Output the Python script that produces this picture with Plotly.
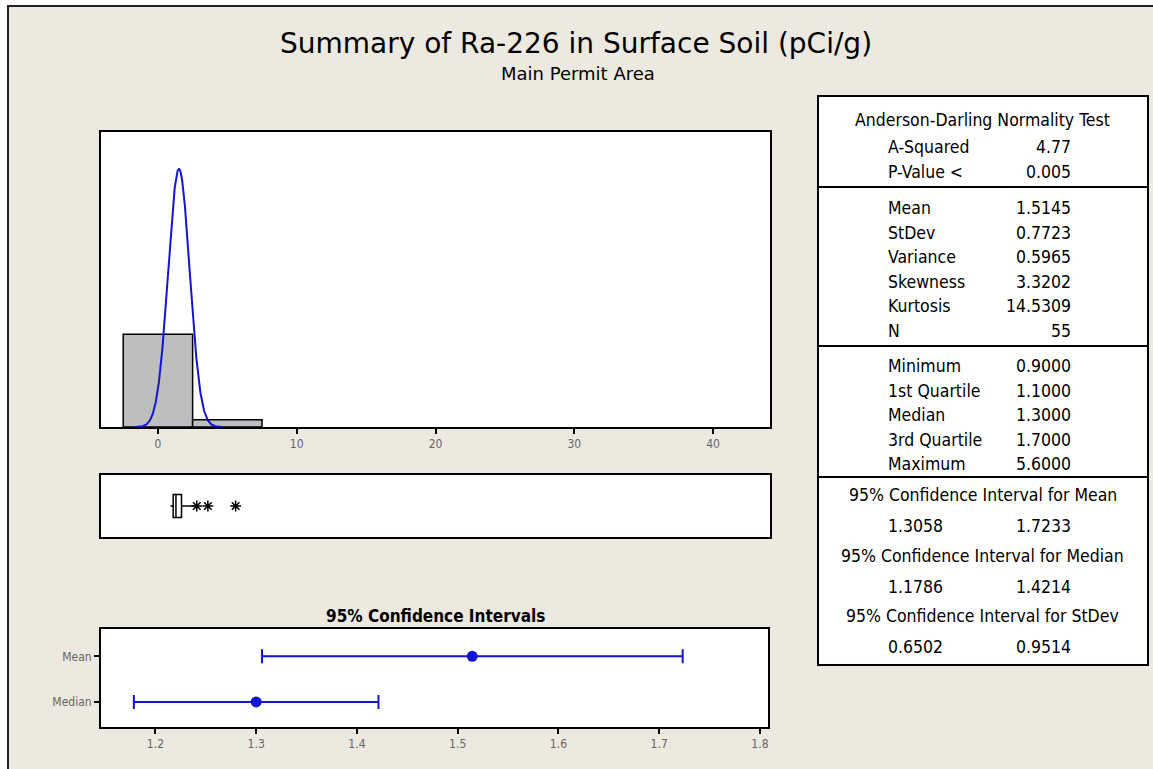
import numpy as np
import plotly.graph_objects as go

W, H = 1153, 769

# ---------------- data ----------------
hist_midpoints = [0, 5]
hist_counts = [51, 4]
bin_width = 5
mean_val = 1.5145
stdev_val = 0.7723
n_val = 55

box_q1 = 1.1
box_median = 1.3
box_q3 = 1.7
box_lower = 0.9
box_upper = 2.6
outliers = [2.8, 3.6, 5.6]

ci_labels = ["Mean", "Median"]
ci_center = [1.5145, 1.3]
ci_lower = [1.3058, 1.1786]
ci_upper = [1.7233, 1.4214]

hist_ticks = [0, 10, 20, 30, 40]
ci_ticks = [1.2, 1.3, 1.4, 1.5, 1.6, 1.7, 1.8]

ad_labels = ["A-Squared", "P-Value <"]
ad_values = ["4.77", "0.005"]
moment_labels = ["Mean", "StDev", "Variance", "Skewness", "Kurtosis", "N"]
moment_values = ["1.5145", "0.7723", "0.5965", "3.3202", "14.5309", "55"]
quant_labels = ["Minimum", "1st Quartile", "Median", "3rd Quartile", "Maximum"]
quant_values = ["0.9000", "1.1000", "1.3000", "1.7000", "5.6000"]
ci_titles = ["95% Confidence Interval for Mean",
             "95% Confidence Interval for Median",
             "95% Confidence Interval for StDev"]
ci_table_lo = ["1.3058", "1.1786", "0.6502"]
ci_table_hi = ["1.7233", "1.4214", "0.9514"]

# ---------------- helpers ----------------
def fx(px):
    return px / W

def fy(py):
    return 1 - py / H

FONT = "DejaVu Sans Condensed, DejaVu Sans, sans-serif"
TITLEFONT = "DejaVu Sans, sans-serif"
TICKFONT = dict(family="Liberation Sans Narrow, DejaVu Sans Condensed, sans-serif", size=12, color="#666666")
BLUE = "#1414d2"
BG = "#ECE9E0"

fig = go.Figure()

# histogram
fig.add_trace(go.Bar(x=hist_midpoints, y=hist_counts, width=bin_width,
                     marker=dict(color="#BEBEBE", line=dict(color="black", width=1.5)),
                     xaxis="x", yaxis="y", showlegend=False, hoverinfo="skip"))
# fitted normal curve from mean / stdev
xs = np.linspace(-1.6, 4.7, 300)
ys = n_val * bin_width * np.exp(-0.5 * ((xs - mean_val) / stdev_val) ** 2) / (stdev_val * np.sqrt(2 * np.pi))
fig.add_trace(go.Scatter(x=xs, y=ys, mode="lines", line=dict(color=BLUE, width=2),
                         xaxis="x", yaxis="y", showlegend=False, hoverinfo="skip"))

# box plot
fig.add_trace(go.Box(orientation="h", y=[0], q1=[box_q1], median=[box_median], q3=[box_q3],
                     lowerfence=[box_lower], upperfence=[box_upper], width=0.74,
                     fillcolor="white", line=dict(color="black", width=1.5), whiskerwidth=0,
                     boxpoints=False, xaxis="x2", yaxis="y2", showlegend=False, hoverinfo="skip"))
fig.add_trace(go.Scatter(x=outliers, y=[0] * len(outliers), mode="markers",
                         marker=dict(symbol="asterisk-open", size=9, color="black",
                                     line=dict(color="black", width=1.5)),
                         xaxis="x2", yaxis="y2", showlegend=False, hoverinfo="skip"))

# confidence intervals
fig.add_trace(go.Scatter(
    x=ci_center, y=ci_labels, mode="markers",
    marker=dict(color=BLUE, size=11),
    error_x=dict(type="data", symmetric=False,
                 array=[u - c for u, c in zip(ci_upper, ci_center)],
                 arrayminus=[c - l for c, l in zip(ci_center, ci_lower)],
                 color=BLUE, thickness=2, width=7),
    xaxis="x3", yaxis="y3", showlegend=False, hoverinfo="skip"))

frame = dict(showline=True, linecolor="black", linewidth=2, mirror=True,
             showgrid=False, zeroline=False)

fig.update_layout(
    width=W, height=H, margin=dict(l=0, r=0, t=0, b=0),
    paper_bgcolor=BG, plot_bgcolor="white",
    font=dict(family=FONT, color="black"),
    xaxis=dict(domain=[fx(101), fx(770)], range=[-4.1, 44.1], tickvals=hist_ticks,
               ticks="outside", ticklen=5, tickcolor="black", tickwidth=1.5,
               tickfont=TICKFONT, anchor="y", **frame),
    yaxis=dict(domain=[fy(427), fy(132)], range=[0, 162.4], showticklabels=False,
               ticks="", anchor="x", **frame),
    xaxis2=dict(domain=[fx(101), fx(770)], matches="x", showticklabels=False, ticks="",
                anchor="y2", **frame),
    yaxis2=dict(domain=[fy(537), fy(475)], range=[-1, 1], showticklabels=False, ticks="",
                anchor="x2", **frame),
    xaxis3=dict(domain=[fx(101), fx(768)], range=[1.146, 1.808], tickvals=ci_ticks,
                ticktext=["%.1f" % t for t in ci_ticks],
                ticks="outside", ticklen=5, tickcolor="black", tickwidth=1.5,
                tickfont=TICKFONT, anchor="y3", **frame),
    yaxis3=dict(domain=[fy(727), fy(629)], type="category", categoryorder="array",
                categoryarray=["Median", "Mean"], range=[-0.55, 1.6],
                ticks="outside", ticklen=5, tickcolor="black", tickwidth=1.5,
                tickfont=TICKFONT, anchor="x3", **frame),
)

shapes = []
annotations = []

# outer border
shapes.append(dict(type="rect", xref="paper", yref="paper", x0=0, x1=fx(7), y0=0, y1=1,
                   fillcolor="white", line=dict(width=0), layer="below"))
shapes.append(dict(type="rect", xref="paper", yref="paper", x0=0, x1=1, y0=fy(5), y1=1,
                   fillcolor="white", line=dict(width=0), layer="below"))
shapes.append(dict(type="line", xref="paper", yref="paper", x0=fx(8), x1=fx(8), y0=0, y1=fy(5),
                   line=dict(color="#222222", width=2)))
shapes.append(dict(type="line", xref="paper", yref="paper", x0=fx(8), x1=1, y0=fy(6), y1=fy(6),
                   line=dict(color="#222222", width=2)))

# titles
annotations.append(dict(text="Summary of Ra-226 in Surface Soil (pCi/g)", x=fx(576), y=fy(43),
                        xref="paper", yref="paper", showarrow=False, xanchor="center", yanchor="middle",
                        font=dict(family=TITLEFONT, size=28, color="black")))
annotations.append(dict(text="Main Permit Area", x=fx(578), y=fy(73),
                        xref="paper", yref="paper", showarrow=False, xanchor="center", yanchor="middle",
                        font=dict(family=TITLEFONT, size=18, color="black")))
annotations.append(dict(text="<b>95% Confidence Intervals</b>", x=fx(435), y=fy(616),
                        xref="paper", yref="paper", showarrow=False, xanchor="center", yanchor="middle",
                        font=dict(family=FONT, size=17, color="black")))

# statistics table
TL, TR, TT, TB = 818, 1148, 96, 665
shapes.append(dict(type="rect", xref="paper", yref="paper", x0=fx(TL), x1=fx(TR), y0=fy(TB), y1=fy(TT),
                   fillcolor="white", line=dict(color="black", width=2)))
for sy in [187, 346, 477]:
    shapes.append(dict(type="line", xref="paper", yref="paper", x0=fx(TL), x1=fx(TR), y0=fy(sy), y1=fy(sy),
                       line=dict(color="black", width=2)))

TFONT = dict(family=FONT, size=17.5, color="black")
LX, RX, CX = 886, 1073, 983

def txt(s, px, py, anchor):
    annotations.append(dict(text=s, x=fx(px), y=fy(py), xref="paper", yref="paper", showarrow=False,
                            xanchor=anchor, yanchor="middle", font=TFONT))

txt("Anderson-Darling Normality Test", CX, 120, "center")
for i, (l, v) in enumerate(zip(ad_labels, ad_values)):
    txt(l, LX, 147 + i * 25, "left")
    txt(v, RX, 147 + i * 25, "right")
for i, (l, v) in enumerate(zip(moment_labels, moment_values)):
    txt(l, LX, 208 + i * 24.6, "left")
    txt(v, RX, 208 + i * 24.6, "right")
for i, (l, v) in enumerate(zip(quant_labels, quant_values)):
    txt(l, LX, 366 + i * 24.6, "left")
    txt(v, RX, 366 + i * 24.6, "right")
for i, (t, lo, hi) in enumerate(zip(ci_titles, ci_table_lo, ci_table_hi)):
    txt(t, CX, 495 + i * 60.5, "center")
    txt(lo, LX, 526 + i * 60.5, "left")
    txt(hi, RX, 526 + i * 60.5, "right")

fig.update_layout(shapes=shapes, annotations=annotations)
fig.write_html("out.html")
